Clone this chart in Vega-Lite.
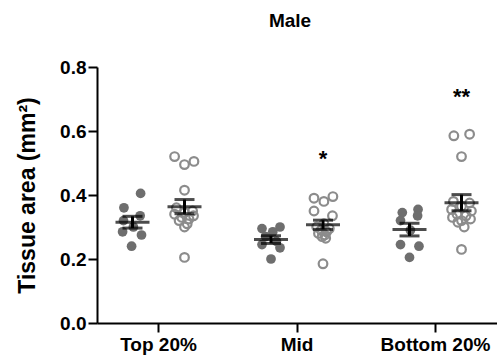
{
  "$schema": "https://vega.github.io/schema/vega-lite/v6.json",
  "width": 400,
  "height": 256,
  "autosize": "none",
  "padding": {"left": 97, "top": 67, "right": 0, "bottom": 33},
  "background": "white",
  "config": {
    "view": {"stroke": null},
    "font": "Liberation Sans",
    "axis": {"grid": false, "domainColor": "black", "domainWidth": 2, "tickColor": "black", "tickWidth": 2, "tickSize": 9, "labelColor": "black", "labelFont": "Liberation Sans", "labelFontWeight": "bold", "labelFontSize": 19, "titleFont": "Liberation Sans", "titleFontWeight": "bold", "titleColor": "black"}
  },
  "title": {"text": "Male", "fontSize": 19, "fontWeight": "bold", "font": "Liberation Sans", "color": "black", "offset": 27, "dx": -7},
  "datasets": {
    "pts": [
      {"cat": "Top 20%", "group": "A", "value": 0.405, "jit": 0.9},
      {"cat": "Top 20%", "group": "A", "value": 0.36, "jit": -0.95},
      {"cat": "Top 20%", "group": "A", "value": 0.335, "jit": 0.85},
      {"cat": "Top 20%", "group": "A", "value": 0.32, "jit": -1},
      {"cat": "Top 20%", "group": "A", "value": 0.3, "jit": 0.1},
      {"cat": "Top 20%", "group": "A", "value": 0.285, "jit": -1.1},
      {"cat": "Top 20%", "group": "A", "value": 0.275, "jit": 1},
      {"cat": "Top 20%", "group": "A", "value": 0.24, "jit": -0.1},
      {"cat": "Top 20%", "group": "B", "value": 0.52, "jit": -1.1},
      {"cat": "Top 20%", "group": "B", "value": 0.505, "jit": 1.05},
      {"cat": "Top 20%", "group": "B", "value": 0.495, "jit": 0},
      {"cat": "Top 20%", "group": "B", "value": 0.415, "jit": 0},
      {"cat": "Top 20%", "group": "B", "value": 0.36, "jit": -0.9},
      {"cat": "Top 20%", "group": "B", "value": 0.35, "jit": 0.9},
      {"cat": "Top 20%", "group": "B", "value": 0.345, "jit": 0},
      {"cat": "Top 20%", "group": "B", "value": 0.34, "jit": -1.1},
      {"cat": "Top 20%", "group": "B", "value": 0.335, "jit": 1.0},
      {"cat": "Top 20%", "group": "B", "value": 0.33, "jit": -0.3},
      {"cat": "Top 20%", "group": "B", "value": 0.325, "jit": 0.5},
      {"cat": "Top 20%", "group": "B", "value": 0.32, "jit": -0.6},
      {"cat": "Top 20%", "group": "B", "value": 0.31, "jit": 0.3},
      {"cat": "Top 20%", "group": "B", "value": 0.3, "jit": 0},
      {"cat": "Top 20%", "group": "B", "value": 0.205, "jit": 0},
      {"cat": "Mid", "group": "A", "value": 0.3, "jit": 1},
      {"cat": "Mid", "group": "A", "value": 0.295, "jit": -1},
      {"cat": "Mid", "group": "A", "value": 0.285, "jit": 0.2},
      {"cat": "Mid", "group": "A", "value": 0.27, "jit": -0.6},
      {"cat": "Mid", "group": "A", "value": 0.255, "jit": 0.6},
      {"cat": "Mid", "group": "A", "value": 0.245, "jit": -1},
      {"cat": "Mid", "group": "A", "value": 0.235, "jit": 1},
      {"cat": "Mid", "group": "A", "value": 0.2, "jit": 0},
      {"cat": "Mid", "group": "B", "value": 0.395, "jit": 1.1},
      {"cat": "Mid", "group": "B", "value": 0.39, "jit": -1},
      {"cat": "Mid", "group": "B", "value": 0.38, "jit": 0.1},
      {"cat": "Mid", "group": "B", "value": 0.35, "jit": -1},
      {"cat": "Mid", "group": "B", "value": 0.335, "jit": 1.05},
      {"cat": "Mid", "group": "B", "value": 0.31, "jit": 0.1},
      {"cat": "Mid", "group": "B", "value": 0.3, "jit": -0.7},
      {"cat": "Mid", "group": "B", "value": 0.295, "jit": 0.7},
      {"cat": "Mid", "group": "B", "value": 0.29, "jit": -0.2},
      {"cat": "Mid", "group": "B", "value": 0.285, "jit": 0.4},
      {"cat": "Mid", "group": "B", "value": 0.28, "jit": -0.5},
      {"cat": "Mid", "group": "B", "value": 0.275, "jit": 0.2},
      {"cat": "Mid", "group": "B", "value": 0.27, "jit": -0.1},
      {"cat": "Mid", "group": "B", "value": 0.265, "jit": 0.3},
      {"cat": "Mid", "group": "B", "value": 0.185, "jit": 0},
      {"cat": "Bottom 20%", "group": "A", "value": 0.355, "jit": 0.95},
      {"cat": "Bottom 20%", "group": "A", "value": 0.345, "jit": -0.8},
      {"cat": "Bottom 20%", "group": "A", "value": 0.335, "jit": 0.9},
      {"cat": "Bottom 20%", "group": "A", "value": 0.32, "jit": -1},
      {"cat": "Bottom 20%", "group": "A", "value": 0.29, "jit": 0.1},
      {"cat": "Bottom 20%", "group": "A", "value": 0.245, "jit": -1},
      {"cat": "Bottom 20%", "group": "A", "value": 0.24, "jit": 1.05},
      {"cat": "Bottom 20%", "group": "A", "value": 0.205, "jit": 0},
      {"cat": "Bottom 20%", "group": "B", "value": 0.59, "jit": 0.9},
      {"cat": "Bottom 20%", "group": "B", "value": 0.585, "jit": -0.85},
      {"cat": "Bottom 20%", "group": "B", "value": 0.52, "jit": 0},
      {"cat": "Bottom 20%", "group": "B", "value": 0.38, "jit": -0.9},
      {"cat": "Bottom 20%", "group": "B", "value": 0.375, "jit": 0.9},
      {"cat": "Bottom 20%", "group": "B", "value": 0.365, "jit": 0},
      {"cat": "Bottom 20%", "group": "B", "value": 0.355, "jit": -1.1},
      {"cat": "Bottom 20%", "group": "B", "value": 0.35, "jit": 1.1},
      {"cat": "Bottom 20%", "group": "B", "value": 0.34, "jit": -0.5},
      {"cat": "Bottom 20%", "group": "B", "value": 0.335, "jit": 0.5},
      {"cat": "Bottom 20%", "group": "B", "value": 0.33, "jit": -1},
      {"cat": "Bottom 20%", "group": "B", "value": 0.325, "jit": 1},
      {"cat": "Bottom 20%", "group": "B", "value": 0.32, "jit": 0},
      {"cat": "Bottom 20%", "group": "B", "value": 0.315, "jit": -0.4},
      {"cat": "Bottom 20%", "group": "B", "value": 0.3, "jit": 0.3},
      {"cat": "Bottom 20%", "group": "B", "value": 0.23, "jit": 0}
    ],
    "sig": [
      {"cat": "Mid", "label": "*", "value": 0.49},
      {"cat": "Bottom 20%", "label": "**", "value": 0.684}
    ]
  },
  "data": {"name": "pts"},
  "encoding": {
    "x": {"field": "cat", "type": "nominal", "sort": ["Top 20%", "Mid", "Bottom 20%"],
      "scale": {"type": "band", "paddingInner": 0.112, "paddingOuter": 0},
      "axis": {"title": null, "labelAngle": 0, "labelPadding": 3}},
    "y": {"field": "value", "type": "quantitative",
      "scale": {"domain": [0, 0.8], "nice": false},
      "axis": {"values": [0, 0.2, 0.4, 0.6, 0.8], "format": ".1f", "title": "Tissue area (mm²)", "titleFontSize": 23, "titlePadding": 20, "labelPadding": 2}}
  },
  "layer": [
    {
      "transform": [{"filter": "datum.group === 'A'"}],
      "layer": [
        {
          "mark": {"type": "circle", "color": "#6e6e6e", "opacity": 1, "size": 95},
          "encoding": {"xOffset": {"field": "jit", "type": "quantitative", "scale": {"domain": [-3.944, 9.722], "nice": false, "zero": false}}}
        },
        {
          "transform": [
            {"aggregate": [{"op": "mean", "field": "value", "as": "m"}, {"op": "stderr", "field": "value", "as": "se"}], "groupby": ["cat"]},
            {"calculate": "datum.m - datum.se", "as": "lo"},
            {"calculate": "datum.m + datum.se", "as": "hi"}
          ],
          "layer": [
            {"mark": {"type": "rule", "color": "black", "strokeWidth": 3},
             "encoding": {"xOffset": {"datum": 0, "type": "quantitative", "scale": {"domain": [-3.944, 9.722], "nice": false, "zero": false}}, "y": {"field": "lo", "type": "quantitative"}, "y2": {"field": "hi"}}},
            {"mark": {"type": "tick", "color": "black", "thickness": 3, "size": 34, "orient": "horizontal"},
             "encoding": {"xOffset": {"datum": 0, "type": "quantitative", "scale": {"domain": [-3.944, 9.722], "nice": false, "zero": false}}, "y": {"field": "m", "type": "quantitative"}}},
            {"mark": {"type": "tick", "color": "black", "thickness": 3, "size": 20, "orient": "horizontal"},
             "encoding": {"xOffset": {"datum": 0, "type": "quantitative", "scale": {"domain": [-3.944, 9.722], "nice": false, "zero": false}}, "y": {"field": "lo", "type": "quantitative"}}},
            {"mark": {"type": "tick", "color": "black", "thickness": 3, "size": 20, "orient": "horizontal"},
             "encoding": {"xOffset": {"datum": 0, "type": "quantitative", "scale": {"domain": [-3.944, 9.722], "nice": false, "zero": false}}, "y": {"field": "hi", "type": "quantitative"}}}
          ]
        }
      ]
    },
    {
      "transform": [{"filter": "datum.group === 'B'"}],
      "layer": [
        {
          "mark": {"type": "point", "shape": "circle", "filled": false, "color": "#8c8c8c", "strokeWidth": 2.2, "opacity": 1, "size": 75},
          "encoding": {"xOffset": {"field": "jit", "type": "quantitative", "scale": {"domain": [-9.722, 3.944], "nice": false, "zero": false}}}
        },
        {
          "transform": [
            {"aggregate": [{"op": "mean", "field": "value", "as": "m"}, {"op": "stderr", "field": "value", "as": "se"}], "groupby": ["cat"]},
            {"calculate": "datum.m - datum.se", "as": "lo"},
            {"calculate": "datum.m + datum.se", "as": "hi"}
          ],
          "layer": [
            {"mark": {"type": "rule", "color": "black", "strokeWidth": 3},
             "encoding": {"xOffset": {"datum": 0, "type": "quantitative", "scale": {"domain": [-9.722, 3.944], "nice": false, "zero": false}}, "y": {"field": "lo", "type": "quantitative"}, "y2": {"field": "hi"}}},
            {"mark": {"type": "tick", "color": "black", "thickness": 3, "size": 34, "orient": "horizontal"},
             "encoding": {"xOffset": {"datum": 0, "type": "quantitative", "scale": {"domain": [-9.722, 3.944], "nice": false, "zero": false}}, "y": {"field": "m", "type": "quantitative"}}},
            {"mark": {"type": "tick", "color": "black", "thickness": 3, "size": 20, "orient": "horizontal"},
             "encoding": {"xOffset": {"datum": 0, "type": "quantitative", "scale": {"domain": [-9.722, 3.944], "nice": false, "zero": false}}, "y": {"field": "lo", "type": "quantitative"}}},
            {"mark": {"type": "tick", "color": "black", "thickness": 3, "size": 20, "orient": "horizontal"},
             "encoding": {"xOffset": {"datum": 0, "type": "quantitative", "scale": {"domain": [-9.722, 3.944], "nice": false, "zero": false}}, "y": {"field": "hi", "type": "quantitative"}}}
          ]
        },
        {
          "data": {"name": "sig"},
          "mark": {"type": "text", "fontSize": 22, "fontWeight": "bold", "font": "Liberation Sans", "color": "black", "baseline": "alphabetic", "align": "center"},
          "encoding": {"xOffset": {"datum": 0, "type": "quantitative", "scale": {"domain": [-9.722, 3.944], "nice": false, "zero": false}}, "text": {"field": "label"}}
        }
      ]
    }
  ],
  "resolve": {"scale": {"xOffset": "independent"}}
}
